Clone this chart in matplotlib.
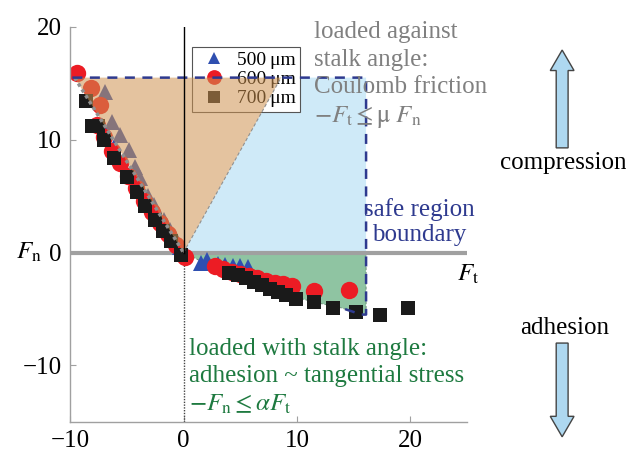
import matplotlib
matplotlib.use('Agg')
import matplotlib.pyplot as plt
from matplotlib.patches import Polygon, FancyArrow

plt.rcParams['font.family'] = ['Liberation Serif', 'DejaVu Serif']
plt.rcParams['mathtext.fontset'] = 'stix'

# measured points: tangential force Ft vs normal force Fn
ft_500 = [-6.9, -6.3, -5.6, -4.8, -4.3, -3.8, -3.1, -2.6, -1.7, -1.2, -0.7, -0.3,
          1.5, 2.1, 3.0, 3.7, 4.4, 5.0, 5.7]
fn_500 = [14.2, 11.6, 10.4, 9.1, 7.6, 6.6, 5.0, 4.2, 2.9, 2.0, 1.2, 0.5,
          -0.9, -0.7, -1.0, -1.1, -1.2, -1.2, -1.3]

ft_600 = [-9.4, -8.2, -7.4, -7.6, -7.0, -6.3, -5.6, -4.9, -4.2, -3.5, -2.8, -2.1, -1.4, -0.7, 0.1,
          2.8, 3.5, 4.3, 5.0, 5.8, 6.5, 7.3, 8.1, 8.8, 9.6, 11.5, 14.6]
fn_600 = [15.9, 14.6, 13.1, 11.3, 10.2, 9.0, 7.9, 6.8, 5.7, 4.6, 3.6, 2.6, 1.6, 0.7, -0.4,
          -1.2, -1.5, -1.7, -1.9, -2.1, -2.3, -2.5, -2.7, -2.8, -3.0, -3.4, -3.3]

ft_700 = [-8.6, -8.1, -7.5, -7.0, -6.1, -5.0, -4.1, -3.4, -2.5, -1.8, -1.1, -0.2,
          4.0, 4.8, 5.5, 6.2, 6.9, 7.6, 8.3, 9.0, 9.9, 11.5, 13.2, 15.2, 17.3, 19.8]
fn_700 = [13.4, 11.2, 11.2, 10.0, 8.4, 6.7, 5.4, 4.1, 2.9, 1.9, 1.0, -0.2,
          -1.8, -2.0, -2.3, -2.6, -2.9, -3.2, -3.5, -3.8, -4.1, -4.4, -4.9, -5.3, -5.5, -4.9]

# regions
coulomb_ft = [-9.6, 0.0, 8.6]
coulomb_fn = [15.5, 0.0, 15.5]
compress_ft = [0.0, 8.6, 16.1, 16.1]
compress_fn = [0.0, 15.5, 15.5, 0.0]
adhesion_ft = [0.0, 2.0, 5.0, 8.0, 10.0, 12.0, 13.9, 15.7, 16.1, 16.1]
adhesion_fn = [0.0, -1.0, -2.0, -3.3, -4.0, -4.5, -4.9, -5.5, -5.5, 0.0]
boundary_ft = [-9.8, 16.1, 16.1, 15.7, 13.9]
boundary_fn = [15.5, 15.5, -5.5, -5.5, -4.9]

grey = '#a0a0a0'
navy = '#2e3a8f'

fig = plt.figure(figsize=(6.26, 4.55), dpi=100)
ax = fig.add_axes([0.112, 0.073, 0.634, 0.868])

# shaded regions below the points
ax.add_patch(Polygon(list(zip(compress_ft, compress_fn)), closed=True,
                     facecolor='#cfeaf8', edgecolor='none', zorder=1))
ax.add_patch(Polygon(list(zip(adhesion_ft, adhesion_fn)), closed=True,
                     facecolor='#8fc4a2', edgecolor='#6a8a78', linestyle=(0, (3, 2)),
                     linewidth=0.7, zorder=1))

# axes lines
ax.axhline(0, color=grey, linewidth=3, zorder=1.5)
ax.plot([0, 0], [0, 20], color='black', linewidth=1, zorder=3.5)
ax.plot([0, 0], [-15, 0], color='#444444', linewidth=1, linestyle=(0, (1, 1)), zorder=1.6)

ax.plot(ft_500, fn_500, linestyle='none', marker='^', markersize=11,
        color='#2f4fb0', markeredgewidth=0, zorder=2, label='500\u2009μm')
ax.plot(ft_600, fn_600, linestyle='none', marker='o', markersize=12.5,
        color='#ec1c24', markeredgewidth=0, zorder=2, label='600\u2009μm')
ax.plot(ft_700, fn_700, linestyle='none', marker='s', markersize=10,
        color='#1a1a1a', markeredgewidth=0, zorder=2.1, label='700\u2009μm')

leg = ax.legend(loc='upper left', bbox_to_anchor=(0.307, 0.95), borderaxespad=0,
                fontsize=14, frameon=True, fancybox=False, framealpha=1,
                edgecolor='#555555', handletextpad=0.25, labelspacing=0.08,
                borderpad=0.25, handlelength=1.8, markerscale=0.85)
leg.get_frame().set_linewidth(0.8)
leg.set_zorder(2.5)

# Coulomb friction cone, tinted on top of the points
ax.add_patch(Polygon(list(zip(coulomb_ft, coulomb_fn)), closed=True,
                     facecolor='#ce9351', alpha=0.55, edgecolor='none', zorder=3))
ax.plot(coulomb_ft[:2], coulomb_fn[:2], color='#909090', linewidth=2.5,
        linestyle=(0, (1, 1)), zorder=3.1)
ax.plot(coulomb_ft[1:], coulomb_fn[1:], color='#909090', linewidth=0.8,
        linestyle=(0, (3, 2)), zorder=3.1)
ax.plot(boundary_ft, boundary_fn, color=navy, linewidth=1.8,
        linestyle=(0, (4, 3)), zorder=3.2)

ax.set_xlim(-10, 25)
ax.set_ylim(-15, 20)
ax.set_xticks([-10, 0, 10, 20])
ax.set_yticks([-10, 0, 10, 20])
ax.set_xticklabels(['\u221210', '0', '10', '20'])
ax.set_yticklabels(['\u221210', '0', '10', '20'])
ax.tick_params(direction='in', length=4, width=0.8, color=grey, labelsize=18, pad=6)
for s in ['top', 'right']:
    ax.spines[s].set_visible(False)
for s in ['left', 'bottom']:
    ax.spines[s].set_color(grey)
    ax.spines[s].set_linewidth(1)

ax.text(-13.6, 0, r'$F_\mathrm{n}$', fontsize=18, ha='center', va='center')
ax.text(25.1, -1.9, r'$F_\mathrm{t}$', fontsize=18, ha='center', va='center',
        clip_on=False)

ax.text(11.5, 20.5, 'loaded against\nstalk angle:\nCoulomb friction\n' +
        r'$-F_\mathrm{t} \leq \mathrm{\mu}\ F_\mathrm{n}$',
        fontsize=18, color='#808080', ha='left', va='top', linespacing=1.32,
        zorder=4)
ax.text(20.8, 2.7, 'safe region\nboundary', fontsize=18, color=navy,
        ha='center', va='center', linespacing=1.15, zorder=4)
ax.text(0.45, -7.6, 'loaded with stalk angle:\nadhesion ~ tangential stress\n' +
        r'$-F_\mathrm{n} \leq \alpha F_\mathrm{t}$',
        fontsize=18, color='#1e7a40', ha='left', va='top', linespacing=1.3,
        zorder=4)

# compression / adhesion arrows at the right
fig.text(0.899, 0.642, 'compression', fontsize=18, ha='center', va='center')
fig.text(0.902, 0.279, 'adhesion', fontsize=18, ha='center', va='center')
fig.add_artist(FancyArrow(0.898, 0.675, 0, 0.215, width=0.019, head_width=0.038,
                          head_length=0.045, length_includes_head=True,
                          transform=fig.transFigure, facecolor='#aed8f0',
                          edgecolor='#444444', linewidth=1))
fig.add_artist(FancyArrow(0.898, 0.246, 0, -0.206, width=0.019, head_width=0.038,
                          head_length=0.045, length_includes_head=True,
                          transform=fig.transFigure, facecolor='#aed8f0',
                          edgecolor='#444444', linewidth=1))

plt.savefig('out.png', dpi=100)
plt.close()
